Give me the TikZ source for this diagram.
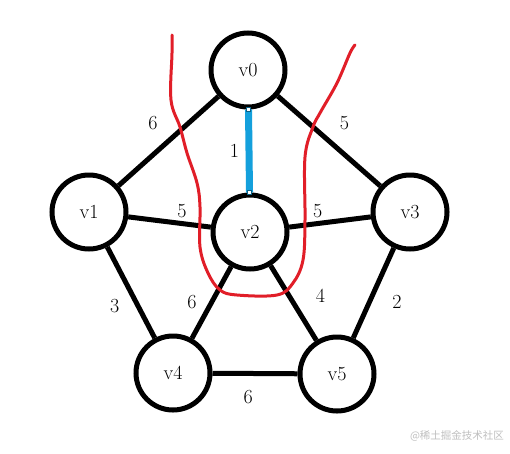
\documentclass[tikz,border=0pt]{standalone}
\usepackage{fontspec}
\newfontfamily\cjkfont{Noto Sans CJK SC}
\definecolor{edgeblue}{RGB}{20,160,220}
\definecolor{penred}{RGB}{225,30,40}
\tikzset{
  vertex/.style={draw, circle, line width=5pt, minimum size=74pt, inner sep=0pt},
  edge/.style={line width=5pt},
  chosen/.style={line width=7pt, edgeblue},
  handle/.style={draw=edgeblue!60!black, fill=white, line width=0.6pt, minimum size=4pt, inner sep=0pt},
  pen/.style={penred, line width=3pt, line cap=round, line join=round}
}
\begin{document}
\begin{tikzpicture}[x=1pt, y=-1pt, font=\fontsize{20}{20}\selectfont]
\fill[white] (0,0) rectangle (510,453);
\useasboundingbox (0,0) rectangle (510,453);
% vertices
\node[vertex] (v0) at (248,70) {v0};
\node[vertex] (v1) at (89,212) {v1};
\node[vertex] (v2) at (250,232) {v2};
\node[vertex] (v3) at (410,212) {v3};
\node[vertex] (v4) at (173,373) {v4};
\node[vertex] (v5) at (337,374) {v5};
% edges
\draw[edge] (v0) -- (v1) node[midway, above left=5pt]{6};
\draw[edge] (v0) -- (v3) node[midway, above right=5pt]{5};
\draw[edge] (v1) -- (v2) node[pos=0.65, above]{5};
\draw[edge] (v2) -- (v3) node[pos=0.35, above]{5};
\draw[edge] (v1) -- (v4) node[pos=0.65, left=13pt]{3};
\draw[edge] (v2) -- (v4) node[midway, left=9pt]{6};
\draw[edge] (v2) -- (v5) node[pos=0.4, right=21pt]{4};
\draw[edge] (v3) -- (v5) node[pos=0.6, right=17pt]{2};
\draw[edge] (v4) -- (v5) node[pos=0.42, below=11pt]{6};
\draw[chosen] (v0) -- (v2) node[midway, left=3pt, black]{1}
  node[handle, pos=0] (h0) {} node[handle, pos=1] (h2) {};
% hand-drawn cut
\draw[pen] plot[smooth, tension=0.6] coordinates {(172,35) (172,53) (171,100) (180,127)
  (187,153) (197,183) (200,207) (200,247) (208,273) (220,290) (237,295) (277,295)
  (293,283) (303,260) (305,220) (305,157) (313,127) (320,113) (337,83) (350,53) (355,45)};
% watermark
\node[text=black!25, font=\cjkfont\fontsize{10.5}{10.5}\selectfont] (mark) at (457,436) {@稀土掘金技术社区};
\end{tikzpicture}
\end{document}
